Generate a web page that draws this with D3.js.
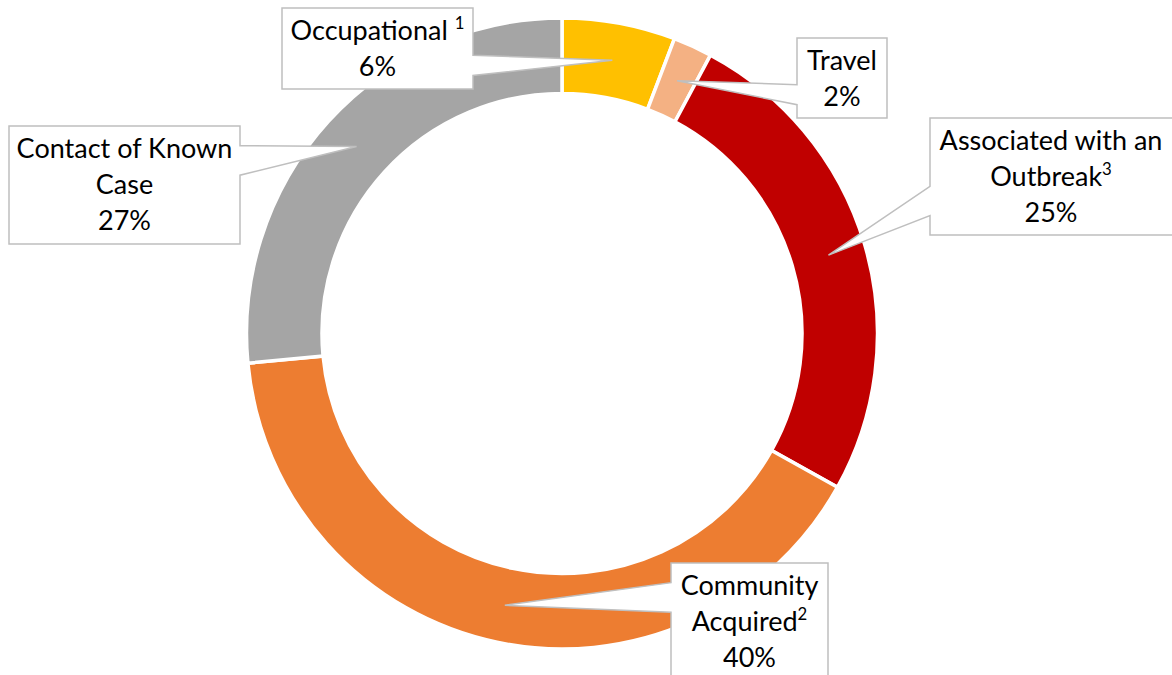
<!DOCTYPE html>
<html>
<head>
<meta charset="utf-8">
<script src="https://cdn.jsdelivr.net/npm/d3@7"></script>
<style>
  html, body { margin: 0; padding: 0; background: #fff; }
  svg { display: block; }
</style>
</head>
<body>
<svg id="chart" width="1172" height="675"></svg>
<script>
// ---- data ----
const categories = ["Occupational", "Travel", "Associated with an Outbreak", "Community Acquired", "Contact of Known Case"];
const values = [5.8, 2.0, 25.3, 40.4, 26.5];
const colors = ["#FFC000", "#F4B183", "#C00000", "#ED7D31", "#A5A5A5"];
// label lines: [text, superscript]
const labelLines = [
  [["Occupational ", "1"]],
  [["Travel", ""]],
  [["Associated with an", ""], ["Outbreak", "3"]],
  [["Community", ""], ["Acquired", "2"]],
  [["Contact of Known", ""], ["Case", ""]]
];
// callout box layout (x, y, w, h)
const boxes = [
  {x: 282, y: 8, w: 191, h: 81},
  {x: 797, y: 38, w: 90, h: 80},
  {x: 930, y: 118, w: 250, h: 117},
  {x: 671, y: 563, w: 157, h: 118},
  {x: 9, y: 126, w: 231, h: 118}
];

const svg = d3.select("#chart");
const cx = 562, cy = 333.5, R = 315.5, r = 240;

const pie = d3.pie().sort(null).value(d => d)(values);
const arc = d3.arc().innerRadius(r).outerRadius(R);

const g = svg.append("g").attr("transform", `translate(${cx},${cy})`);
g.selectAll("path.slice").data(pie).join("path")
  .attr("class", "slice")
  .attr("d", arc)
  .attr("fill", (d, i) => colors[i])
  .attr("stroke", "#fff")
  .attr("stroke-width", 3.5)
  .attr("stroke-linejoin", "miter");

// callouts (wedgeRectCallout style)
const fontFamily = "Lato, 'Open Sans', sans-serif";
const fs = 27;
pie.forEach((d, i) => {
  const c = arc.centroid(d);
  const tx = cx + c[0], ty = cy + c[1];
  const b = boxes[i];
  const bcx = b.x + b.w / 2, bcy = b.y + b.h / 2;
  const dx = tx - bcx, dy = ty - bcy;
  let pts;
  const x0 = b.x, x1 = b.x + b.w, y0 = b.y, y1 = b.y + b.h;
  if (Math.abs(dx) / b.w >= Math.abs(dy) / b.h) {
    // left or right side
    const ya = dy > 0 ? y0 + b.h * 7 / 12 : y0 + b.h * 2 / 12;
    const yb = dy > 0 ? y0 + b.h * 10 / 12 : y0 + b.h * 5 / 12;
    if (dx > 0) {
      pts = [[x0, y0], [x1, y0], [x1, ya], [tx, ty], [x1, yb], [x1, y1], [x0, y1]];
    } else {
      pts = [[x0, y0], [x1, y0], [x1, y1], [x0, y1], [x0, yb], [tx, ty], [x0, ya]];
    }
  } else {
    const xa = dx > 0 ? x0 + b.w * 7 / 12 : x0 + b.w * 2 / 12;
    const xb = dx > 0 ? x0 + b.w * 10 / 12 : x0 + b.w * 5 / 12;
    if (dy > 0) {
      pts = [[x0, y0], [x1, y0], [x1, y1], [xb, y1], [tx, ty], [xa, y1], [x0, y1]];
    } else {
      pts = [[x0, y0], [xa, y0], [tx, ty], [xb, y0], [x1, y0], [x1, y1], [x0, y1]];
    }
  }
  svg.append("path")
    .attr("d", "M" + pts.map(p => p.join(",")).join("L") + "Z")
    .attr("fill", "#fff")
    .attr("stroke", "#BFBFBF")
    .attr("stroke-width", 1.5);

  const lines = labelLines[i].concat([[Math.round(values[i]) + "%", ""]]);
  const t = svg.append("text")
    .attr("font-family", fontFamily)
    .attr("font-size", fs)
    .attr("fill", "#000")
    .attr("text-anchor", "middle");
  lines.forEach((ln, k) => {
    const y = b.y + 32 + k * 36;
    const cxText = Math.min(bcx, b.x + (1172 - b.x) / 2);
    const tl = t.append("tspan").attr("x", cxText).attr("y", y);
    tl.append("tspan").text(ln[0]);
    if (ln[1]) {
      tl.append("tspan").attr("font-size", fs * 0.62).attr("dy", -11).text(ln[1]);
    }
  });
});
</script>
</body>
</html>
